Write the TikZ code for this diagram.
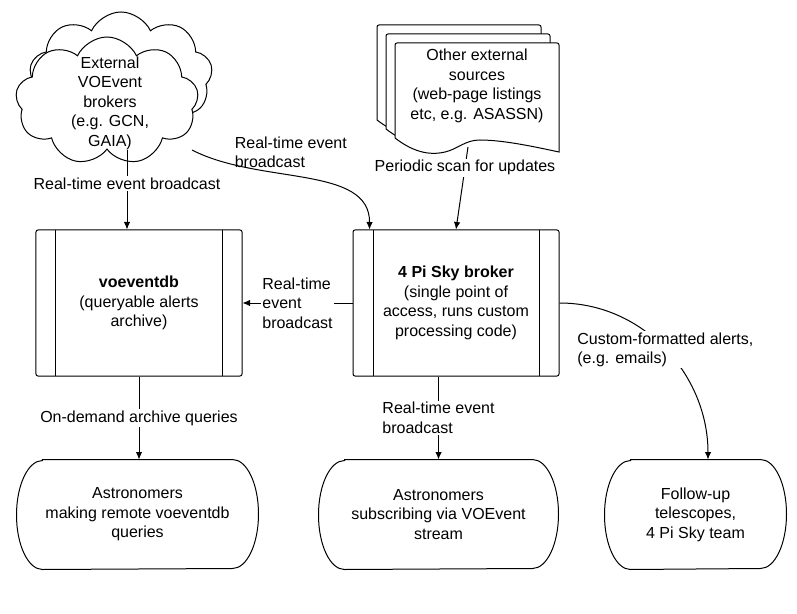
\documentclass[tikz,border=0pt]{standalone}
\usepackage{fontspec}
\setmainfont{Liberation Sans}
\usetikzlibrary{arrows.meta,shapes.symbols,positioning,calc}

% outline of a terminal (stadium) node
\newcommand\termline[1]{%
  \draw ([xshift=26bp]#1.north west) -- ([xshift=-26bp]#1.north east)
    arc[start angle=90, end angle=-90, x radius=26bp, y radius=54.5bp]
    -- ([xshift=26bp]#1.south west)
    arc[start angle=270, end angle=90, x radius=26bp, y radius=54.5bp] -- cycle;}

\tikzset{
  extcloud/.style={cloud, cloud puffs=9, cloud puff arc=130, cloud ignores aspect,
    draw, fill=white, minimum width=183bp, minimum height=128bp, inner sep=0pt},
  procbox/.style={draw, fill=white, rounded corners=2bp, minimum width=206bp,
    minimum height=146bp, align=center,
    path picture={\draw ([xshift=20bp]path picture bounding box.north west)
      -- ([xshift=20bp]path picture bounding box.south west)
      ([xshift=-20bp]path picture bounding box.north east)
      -- ([xshift=-20bp]path picture bounding box.south east);}},
  termbox/.style={minimum height=109bp, align=center},
  lbl/.style={fill=white, inner sep=1.5bp, align=left}
}

\begin{document}
\begin{tikzpicture}[x=1bp, y=1bp, line width=1bp,
    >={Latex[length=7.5bp,width=6.5bp]},
    font=\fontsize{16bp}{19.5bp}\selectfont]
\useasboundingbox (0,0) rectangle (797,-614);

% external brokers
\node[extcloud] (extback) at (121,-76) {};
\node[extcloud, label={[align=center,xshift=3bp,yshift=-2bp]center:External\\VOEvent\\brokers\\(e.g. GCN,\\GAIA)}] (ext) at (107,-101) {};

% other external sources (stack of sheets)
\foreach \d in {18,9,0} {
  \begin{scope}[shift={(-\d,\d)}]
    \draw[fill=white] (395,-138) [rounded corners=2bp] -- (395,-43) -- (559,-43)
      [sharp corners] -- (559,-152)
      .. controls (540,-148) and (505,-140) .. (480,-140)
      .. controls (465,-140) and (458,-149) .. (445,-152)
      .. controls (428,-156) and (412,-151) .. (395,-138) -- cycle;
  \end{scope}
}
\node[align=center] (docs) at (477,-86) {Other external\\sources\\(web-page listings\\etc, e.g. ASASSN)};
\coordinate (docsout) at (468,-147);

% processing
\node[procbox] (db) at (139,-303) {\textbf{voeventdb}\\(queryable alerts\\archive)};
\node[procbox] (broker) at (456,-303) {\textbf{4 Pi Sky broker}\\(single point of\\access, runs custom\\processing code)};

% end users
\node[termbox, minimum width=241bp] (users) at (137.5,-514.5) {Astronomers\\making remote voeventdb\\queries};
\node[termbox, minimum width=239bp] (subs) at (438.5,-514.5) {Astronomers\\subscribing via VOEvent\\stream};
\node[termbox, minimum width=181bp] (tel) at (695.5,-514.5) {Follow-up\\telescopes,\\4 Pi Sky team};
\termline{users}
\termline{subs}
\termline{tel}

% connectors
\coordinate (dbin) at ([xshift=-12bp]db.north);
\draw[->] (ext.south -| dbin) -- node[lbl, pos=0.42] (lblext) {Real-time event broadcast} (dbin);

\coordinate (extout) at (192,-150);
\draw[->] (extout) .. controls (260,-185) and (370,-165) .. ([xshift=17bp]broker.north west);
\node[anchor=west, align=left] (lblcurve) at (231,-152.5) {Real-time event\\broadcast};

\draw[->] (docsout) -- node[lbl, pos=0.25] (lblscan) {Periodic scan for updates} (broker.north);
\draw[->] (broker.west) -- node[lbl] (lblfeed) {Real-time\\event\\broadcast} (db.east);
\draw[->] (db.south) -- node[lbl] (lblquery) {On-demand archive queries} (db.south |- users.north);
\draw[->] (broker.south -| subs.north) -- node[lbl] (lblstream) {Real-time event\\broadcast} (subs.north);
\draw[->] (broker.east) to[out=0, in=90] node[lbl] (lblmail) {Custom-formatted alerts,\\(e.g. emails)} ([xshift=12.5bp]tel.north);
\end{tikzpicture}
\end{document}
